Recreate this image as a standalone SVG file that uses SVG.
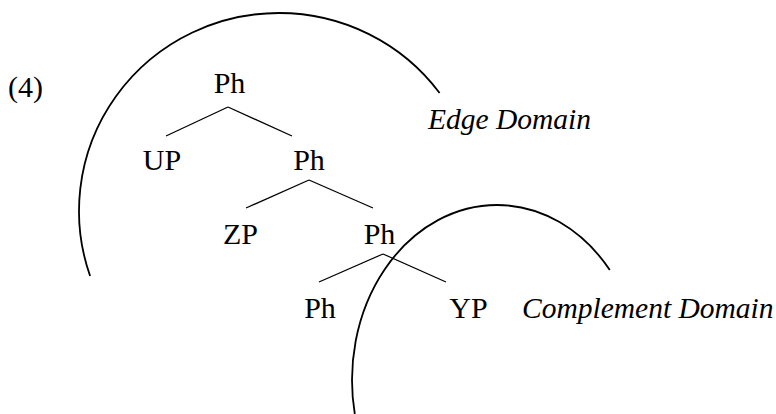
<svg xmlns="http://www.w3.org/2000/svg" width="776" height="414" viewBox="0 0 776 414">
<style>
text{font-family:"Liberation Serif","Times New Roman",serif;font-size:30px;fill:#000}
.n{text-anchor:middle}
.it{font-style:italic;font-size:29.5px}
.edge{stroke:#000;stroke-width:1.3;fill:none;stroke-linecap:butt}
.dom{stroke:#000;stroke-width:1.8;fill:none}
</style>
<rect width="776" height="414" fill="#fff"/>
<g id="domains">
<path id="edge-domain-arc" class="dom" d="M90.1,276 A200,198 0 0 1 279,13 A200,198 0 0 1 439.6,93"/>
<path id="complement-domain-arc" class="dom" d="M354.8,414 A145,175 0 0 1 497,205 A145,175 0 0 1 609.8,270"/>
</g>
<g id="connectors">
<line class="edge" x1="228" y1="107" x2="166" y2="136"/>
<line class="edge" x1="228" y1="107" x2="292" y2="136"/>
<line class="edge" x1="309" y1="180" x2="246" y2="208"/>
<line class="edge" x1="309" y1="180" x2="373" y2="208"/>
<line class="edge" x1="383" y1="254" x2="319" y2="282"/>
<line class="edge" x1="383" y1="254" x2="446" y2="282"/>
</g>
<g id="label-4"><text x="8" y="97">(4)</text></g>
<g id="node-ph1"><text class="n" x="229.5" y="93">Ph</text></g>
<g id="node-up"><text class="n" x="162" y="170">UP</text></g>
<g id="node-ph2"><text class="n" x="309" y="170">Ph</text></g>
<g id="node-zp"><text class="n" x="240.5" y="244">ZP</text></g>
<g id="node-ph3"><text class="n" x="379.5" y="244">Ph</text></g>
<g id="node-ph4"><text class="n" x="320" y="318">Ph</text></g>
<g id="node-yp"><text class="n" x="468.5" y="318">YP</text></g>
<g id="label-edge-domain"><text class="it" x="428" y="129">Edge Domain</text></g>
<g id="label-complement-domain"><text class="it" x="522" y="318">Complement Domain</text></g>
</svg>
